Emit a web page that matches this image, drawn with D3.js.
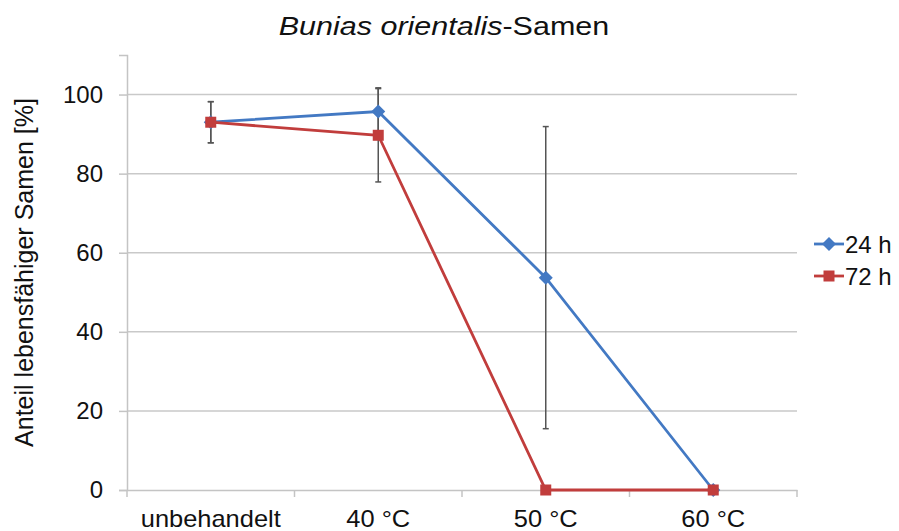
<!DOCTYPE html>
<html>
<head>
<meta charset="utf-8">
<script src="https://cdn.jsdelivr.net/npm/d3@7"></script>
<style>
  body { margin: 0; background: #fff; }
  svg { font-family: "Liberation Sans", Arial, sans-serif; }
</style>
</head>
<body>
<svg id="chart" width="899" height="531"></svg>
<script>
const categories = ['unbehandelt', '40 °C', '50 °C', '60 °C'];
const yTicks = [0, 20, 40, 60, 80, 100];
const values24 = [93, 95.7, 53.7, 0];
const errors24 = [5.2, 6, 38.2, 0];
const values72 = [93, 89.7, 0, 0];
const errors72 = [5.2, 11.8, 0, 0];

const svg = d3.select('svg#chart');
const margin = { top: 55, right: 102, bottom: 41, left: 127 };
const width = +svg.attr('width') - margin.left - margin.right;
const height = +svg.attr('height') - margin.top - margin.bottom;

const series = [
  { name: '24 h', values: values24, errors: errors24, color: '#4379c3', marker: 'diamond' },
  { name: '72 h', values: values72, errors: errors72, color: '#c13d3c', marker: 'square' },
];

const g = svg.append('g').attr('transform', `translate(${margin.left},${margin.top})`);

const xScale = d3.scaleBand().domain(categories).range([0, width]).paddingInner(0).paddingOuter(0);
const yScale = d3.scaleLinear().domain([0, 110]).range([height, 0]);
const cx = c => xScale(c) + xScale.bandwidth() / 2;

// gridlines
g.append('g').selectAll('line')
    .data(yTicks.filter(d => d > 0))
    .join('line')
    .attr('x1', 0).attr('x2', width)
    .attr('y1', d => yScale(d)).attr('y2', d => yScale(d))
    .attr('stroke', '#c9c9c9').attr('stroke-width', 1.5);

// y axis
const yAxis = g.append('g')
    .call(d3.axisLeft(yScale).tickValues(yTicks).tickSize(8).tickPadding(16));
yAxis.attr('font-family', null).attr('font-size', null);
yAxis.select('.domain').attr('stroke', '#c4c4c4').attr('stroke-width', 1.5);
yAxis.selectAll('.tick line').attr('stroke', '#c4c4c4').attr('stroke-width', 1.5);
yAxis.selectAll('.tick text').style('font-size', '24px').attr('fill', '#111');

// x axis
const xAxis = g.append('g')
    .attr('transform', `translate(0,${height})`)
    .call(d3.axisBottom(xScale).tickSize(0).tickPadding(20));
xAxis.attr('font-family', null).attr('font-size', null);
xAxis.select('.domain').attr('stroke', '#c4c4c4').attr('stroke-width', 1.5);
xAxis.selectAll('.tick text').style('font-size', '24px').attr('fill', '#111')
    .attr('transform', 'scale(1.06,1)');
g.append('g').selectAll('line')
    .data(d3.range(categories.length + 1))
    .join('line')
    .attr('x1', i => i * xScale.step()).attr('x2', i => i * xScale.step())
    .attr('y1', height).attr('y2', height + 7)
    .attr('stroke', '#c4c4c4').attr('stroke-width', 1.5);

// error bars
series.forEach(s => {
  const eb = g.append('g');
  s.values.forEach((v, i) => {
    const e = s.errors[i];
    if (!e) return;
    const x = cx(categories[i]);
    eb.append('line').attr('x1', x).attr('x2', x)
      .attr('y1', yScale(v + e)).attr('y2', yScale(v - e))
      .attr('stroke', '#555').attr('stroke-width', 1.5);
    [v + e, v - e].forEach(y => {
      eb.append('line').attr('x1', x - 3).attr('x2', x + 3)
        .attr('y1', yScale(y)).attr('y2', yScale(y))
        .attr('stroke', '#555').attr('stroke-width', 1.5);
    });
  });
});

const line = d3.line()
    .x((d, i) => cx(categories[i]))
    .y(d => yScale(d));

function drawMarker(sel, type, color, x, y) {
  if (type === 'diamond') {
    sel.append('path')
      .attr('d', `M${x},${y - 7}L${x + 7},${y}L${x},${y + 7}L${x - 7},${y}Z`)
      .attr('fill', color);
  } else {
    sel.append('rect')
      .attr('x', x - 5.5).attr('y', y - 5.5).attr('width', 11).attr('height', 11)
      .attr('fill', color);
  }
}

series.forEach(s => {
  g.append('path')
      .datum(s.values)
      .attr('d', line)
      .attr('fill', 'none')
      .attr('stroke', s.color)
      .attr('stroke-width', 2.8);
  const m = g.append('g');
  s.values.forEach((v, i) => drawMarker(m, s.marker, s.color, cx(categories[i]), yScale(v)));
});

// title
svg.append('text')
    .attr('transform', 'translate(444,35) scale(1.22,1)')
    .attr('text-anchor', 'middle')
    .style('font-size', '25px')
    .attr('fill', '#111')
    .call(t => {
      t.append('tspan').attr('font-style', 'italic').text('Bunias orientalis');
      t.append('tspan').text('-Samen');
    });

// y label
svg.append('text')
    .attr('transform', `translate(33,${margin.top + yScale(55)}) rotate(-90)`)
    .attr('text-anchor', 'middle')
    .style('font-size', '25px')
    .attr('fill', '#111')
    .text('Anteil lebensfähiger Samen [%]');

// legend
const legend = svg.append('g').attr('transform', 'translate(814,244)');
series.forEach((s, i) => {
  const row = legend.append('g').attr('transform', `translate(0,${i * 32})`);
  row.append('line').attr('x1', 0).attr('x2', 30).attr('y1', 0).attr('y2', 0)
    .attr('stroke', s.color).attr('stroke-width', 2.8);
  drawMarker(row, s.marker, s.color, 15, 0);
  row.append('text').attr('x', 31).attr('y', 9)
    .style('font-size', '24px').attr('fill', '#111').text(s.name);
});
</script>
</body>
</html>
